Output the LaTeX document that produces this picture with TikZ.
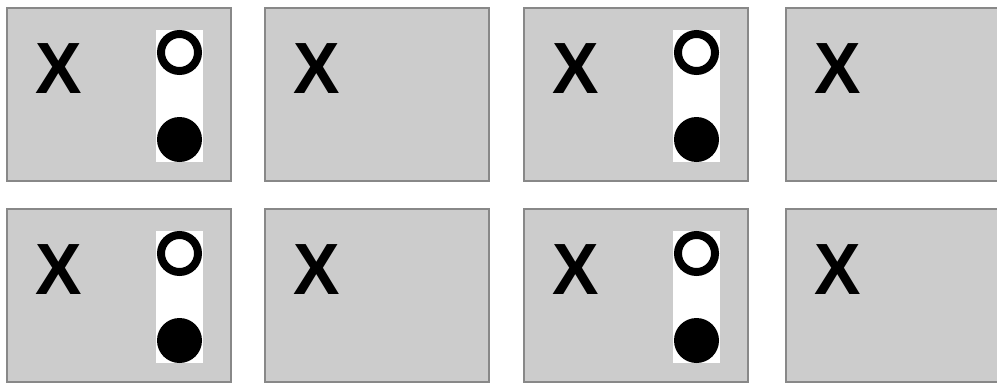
\documentclass[tikz,border=0pt]{standalone}
\usepackage{fontspec}
\setmainfont{Liberation Sans}
\usetikzlibrary{positioning,calc}
\definecolor{panelfill}{HTML}{CCCCCC}
\definecolor{paneledge}{HTML}{888888}

\begin{document}
\begin{tikzpicture}[
  panel/.style={rectangle, draw=paneledge, fill=panelfill, line width=2pt, minimum width=224pt, minimum height=173pt, inner sep=0pt},
  glyph/.style={font=\fontsize{72.6pt}{80pt}\selectfont\bfseries, inner sep=0pt, anchor=center, xscale=0.96},
  strip/.style={rectangle, fill=white, minimum width=47pt, minimum height=132pt, inner sep=0pt, outer sep=0pt, anchor=north west},
  hollowdot/.style={circle, draw=black, fill=white, line width=8pt, minimum size=37pt, inner sep=0pt},
  fulldot/.style={circle, fill=black, minimum size=45pt, inner sep=0pt, outer sep=0pt}
]
\useasboundingbox (0pt,0pt) rectangle (997pt,-383pt);

% top row
\node[panel] (p1) at (119pt,-94.5pt) {};
\node[panel, right=32pt of p1] (p2) {};
\node[panel, right=33pt of p2] (p3) {};
\node[panel, right=36pt of p3] (p4) {};
% bottom row
\node[panel, below=26pt of p1] (q1) {};
\node[panel, right=32pt of q1] (q2) {};
\node[panel, right=33pt of q2] (q3) {};
\node[panel, right=36pt of q3] (q4) {};

% labels
\node[glyph] (xp1) at ([shift={(52.5pt,-62pt)}]p1.north west) {X};
\node[glyph] (xp2) at ([shift={(52.5pt,-62pt)}]p2.north west) {X};
\node[glyph] (xp3) at ([shift={(52.5pt,-62pt)}]p3.north west) {X};
\node[glyph] (xp4) at ([shift={(52.5pt,-62pt)}]p4.north west) {X};
\node[glyph] (xq1) at ([shift={(52.5pt,-62pt)}]q1.north west) {X};
\node[glyph] (xq2) at ([shift={(52.5pt,-62pt)}]q2.north west) {X};
\node[glyph] (xq3) at ([shift={(52.5pt,-62pt)}]q3.north west) {X};
\node[glyph] (xq4) at ([shift={(52.5pt,-62pt)}]q4.north west) {X};

% indicator strips
\node[strip] (sp1) at ([shift={(150pt,-23pt)}]p1.north west) {};
\node[hollowdot] (op1) at ([yshift=-22.5pt]sp1.north) {};
\node[fulldot] (fp1) at ([yshift=22.5pt]sp1.south) {};

\node[strip] (sp3) at ([shift={(150pt,-23pt)}]p3.north west) {};
\node[hollowdot] (op3) at ([yshift=-22.5pt]sp3.north) {};
\node[fulldot] (fp3) at ([yshift=22.5pt]sp3.south) {};

\node[strip] (sq1) at ([shift={(150pt,-23pt)}]q1.north west) {};
\node[hollowdot] (oq1) at ([yshift=-22.5pt]sq1.north) {};
\node[fulldot] (fq1) at ([yshift=22.5pt]sq1.south) {};

\node[strip] (sq3) at ([shift={(150pt,-23pt)}]q3.north west) {};
\node[hollowdot] (oq3) at ([yshift=-22.5pt]sq3.north) {};
\node[fulldot] (fq3) at ([yshift=22.5pt]sq3.south) {};
\end{tikzpicture}
\end{document}
